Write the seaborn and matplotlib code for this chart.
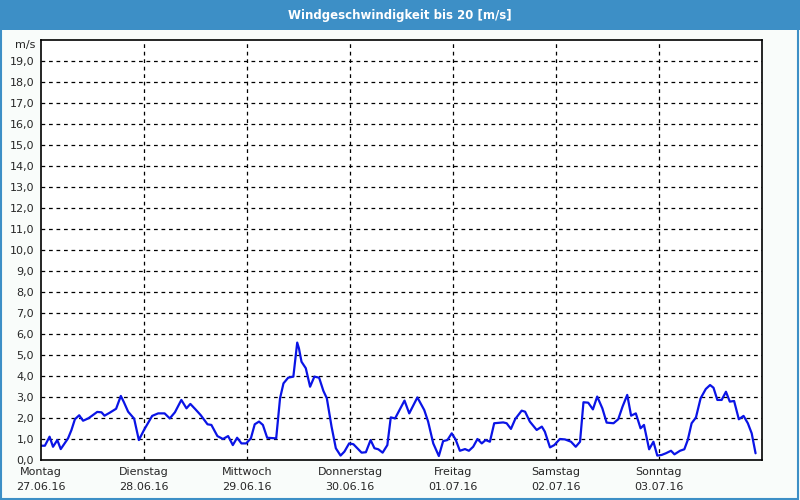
import matplotlib
matplotlib.use("Agg")
import matplotlib.pyplot as plt
from matplotlib.patches import Rectangle
import pandas as pd
import seaborn as sns

# hours since Montag 00:00 and wind speed in m/s
hours = [0.0, 0.9, 2.0, 2.8, 3.8, 4.6, 6.3, 7.1, 7.9, 8.9, 9.8, 11.0, 11.9, 13.1,
         14.1, 14.8, 16.0, 17.5, 18.6, 19.3, 20.3, 21.7, 22.8, 24.0, 24.9, 25.9,
         27.3, 28.8, 30.0, 31.2, 32.7, 33.9, 34.8, 36.0, 37.2, 38.8, 39.7, 41.1,
         42.4, 43.6, 44.7, 45.7, 46.7, 47.8, 48.9, 49.8, 50.8, 51.7, 52.7, 54.8,
         55.7, 56.5, 57.6, 58.8, 59.7, 60.1, 60.7, 61.7, 62.7, 63.7, 64.8, 65.8,
         66.6, 67.7, 68.7, 69.8, 70.7, 71.8, 72.8, 74.7, 75.7, 76.8, 77.7, 78.6,
         79.6, 80.7, 81.5, 82.5, 84.7, 85.8, 87.7, 89.3, 90.2, 91.4, 92.7, 93.7,
         94.7, 95.7, 96.6, 97.6, 98.8, 99.7, 100.7, 101.7, 102.7, 103.6, 104.6,
         105.6, 107.7, 108.5, 109.5, 110.5, 112.0, 112.8, 113.9, 115.5, 116.7,
         117.4, 118.6, 119.6, 120.9, 122.1, 123.5, 124.6, 125.6, 126.4, 127.5,
         128.6, 129.6, 130.8, 131.8, 133.4, 134.5, 135.5, 136.6, 137.5, 138.6,
         139.7, 140.5, 141.7, 142.7, 143.6, 144.6, 145.6, 146.8, 147.6, 148.9,
         149.9, 150.7, 151.6, 152.6, 153.7, 154.9, 155.9, 156.7, 157.6, 158.6,
         159.6, 160.5, 161.5, 162.6, 163.7, 164.7, 165.6, 166.5]
speed = [0.68, 0.68, 1.11, 0.63, 0.95, 0.52, 1.03, 1.43, 1.94, 2.13, 1.87, 1.98,
         2.11, 2.29, 2.27, 2.11, 2.25, 2.44, 3.05, 2.76, 2.30, 1.97, 0.95, 1.43,
         1.75, 2.10, 2.22, 2.22, 1.98, 2.27, 2.86, 2.46, 2.67, 2.41, 2.14, 1.70,
         1.67, 1.14, 1.00, 1.14, 0.71, 1.06, 0.79, 0.79, 1.03, 1.70, 1.83, 1.67,
         1.06, 1.03, 2.94, 3.65, 3.92, 3.97, 5.59, 5.32, 4.68, 4.37, 3.49, 3.97,
         3.92, 3.29, 2.94, 1.59, 0.56, 0.21, 0.40, 0.79, 0.75, 0.35, 0.37, 0.95,
         0.56, 0.51, 0.35, 0.71, 2.03, 1.98, 2.83, 2.22, 2.98, 2.38, 1.83, 0.79,
         0.19, 0.90, 0.95, 1.27, 0.98, 0.44, 0.52, 0.44, 0.63, 1.00, 0.79, 0.95,
         0.87, 1.75, 1.79, 1.75, 1.48, 1.95, 2.35, 2.30, 1.83, 1.43, 1.59, 1.35,
         0.60, 0.71, 1.00, 0.98, 0.87, 0.63, 0.87, 2.75, 2.73, 2.41, 3.02, 2.46,
         1.78, 1.75, 1.94, 2.54, 3.10, 2.11, 2.22, 1.51, 1.67, 0.51, 0.87, 0.21,
         0.24, 0.32, 0.44, 0.27, 0.44, 0.51, 0.95, 1.75, 2.02, 2.94, 3.38, 3.57,
         3.44, 2.86, 2.86, 3.25, 2.78, 2.81, 1.94, 2.10, 1.75, 1.27, 0.32]

day_names = ["Montag", "Dienstag", "Mittwoch", "Donnerstag", "Freitag", "Samstag", "Sonntag"]
day_dates = ["27.06.16", "28.06.16", "29.06.16", "30.06.16", "01.07.16", "02.07.16", "03.07.16"]
y_ticks = list(range(0, 20))

df = pd.DataFrame({"day": [h / 24 for h in hours], "speed": speed})

sns.set_style("white")
plt.rcParams["font.family"] = ["DejaVu Sans"]

bg = "#f9fcfa"
blue = "#3d8fc6"
fig = plt.figure(figsize=(8, 5), dpi=100, facecolor=bg)
ax = fig.add_axes([41 / 800, 40 / 500, 721 / 800, 420 / 500])
ax.set_facecolor("white")

sns.lineplot(data=df, x="day", y="speed", ax=ax, color="#0a14e6", linewidth=1.6)

ax.set_xlim(0, 7)
ax.set_ylim(0, 20)
ax.set_yticks(y_ticks)
ax.set_yticklabels([f"{v},0" for v in y_ticks], fontsize=8)
ax.set_xticks(range(7))
ax.set_xticklabels([f"{n}\n{d}" for n, d in zip(day_names, day_dates)], fontsize=8,
                   linespacing=1.6)
ax.tick_params(axis="both", direction="out", length=3, width=1, color="black", pad=2)
ax.set_xlabel("")
ax.set_ylabel("")

for v in range(1, 20):
    ax.axhline(v, color="black", linestyle=(0, (3, 3)), linewidth=0.9, zorder=0)
for d in range(1, 7):
    ax.axvline(d, color="black", linestyle=(0, (3, 3)), linewidth=0.9, zorder=0)

for s in ax.spines.values():
    s.set_visible(True)
    s.set_color("black")
    s.set_linewidth(1.2)

ax.text(-0.008, 19.75, "m/s", transform=ax.get_yaxis_transform(), ha="right",
        va="center", fontsize=8)

# title bar and frame
fig.patches.append(Rectangle((0, 470 / 500), 1, 30 / 500, transform=fig.transFigure,
                             facecolor=blue, edgecolor="none", zorder=0))
fig.patches.append(Rectangle((0.001, 0.002), 0.997, 0.99, transform=fig.transFigure,
                             facecolor="none", edgecolor=blue, linewidth=1.5, zorder=1))
fig.text(0.5, 485 / 500, "Windgeschwindigkeit bis 20 [m/s]", color="white",
         fontsize=8.5, fontweight="bold", ha="center", va="center")

fig.savefig("out.png", dpi=100, facecolor=bg)
